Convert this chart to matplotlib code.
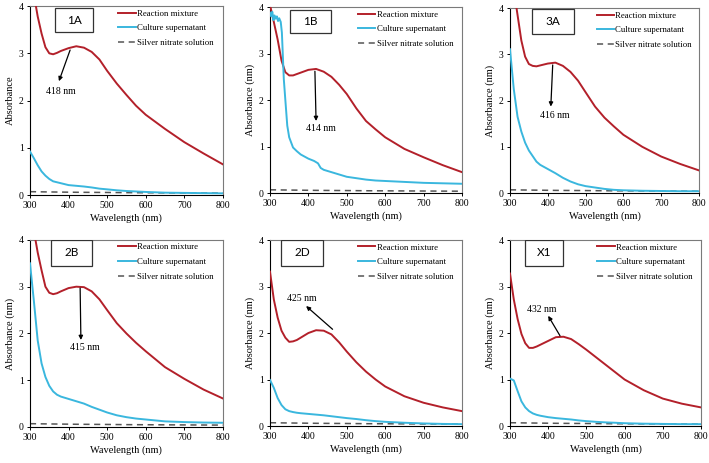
import matplotlib
matplotlib.use("Agg")
import matplotlib.pyplot as plt
from matplotlib.patches import Rectangle

# ---------------- data ----------------
wavelength = [300, 310, 320, 330, 340, 350, 360, 370, 380, 400, 420, 440, 460,
              480, 500, 525, 550, 575, 600, 650, 700, 750, 800]

silver = [0.07, 0.07, 0.068, 0.067, 0.066, 0.065, 0.064, 0.063, 0.062, 0.06, 0.058,
          0.057, 0.056, 0.055, 0.054, 0.052, 0.05, 0.049, 0.048, 0.046, 0.044, 0.042, 0.04]

red_1A = [4.9, 4.25, 3.78, 3.42, 3.13, 3.0, 2.98, 3.01, 3.05, 3.11, 3.15, 3.12, 3.03,
          2.87, 2.63, 2.36, 2.12, 1.89, 1.70, 1.40, 1.12, 0.88, 0.65]
blue_1A = [0.92, 0.78, 0.63, 0.50, 0.41, 0.34, 0.29, 0.27, 0.25, 0.21, 0.195, 0.18, 0.16,
           0.135, 0.12, 0.10, 0.085, 0.075, 0.065, 0.05, 0.045, 0.04, 0.035]

red_1B = [4.05, 3.68, 3.3, 2.85, 2.6, 2.53, 2.53, 2.56, 2.59, 2.65, 2.67, 2.61, 2.5,
          2.33, 2.13, 1.82, 1.55, 1.37, 1.2, 0.95, 0.77, 0.6, 0.45]
wl_blue_1B = [300, 303, 306, 309, 312, 315, 318, 321, 324, 328, 331, 336, 340, 345, 350,
              360, 370, 380, 400, 415, 425, 432, 440, 460, 480, 500, 525, 550, 575,
              600, 650, 700, 750, 800]
blue_1B = [3.88, 3.8, 3.9, 3.72, 3.82, 3.75, 3.8, 3.7, 3.76, 3.68, 3.45, 2.45, 2.0, 1.45, 1.2,
           0.98, 0.9, 0.83, 0.74, 0.69, 0.64, 0.54, 0.5, 0.45, 0.4, 0.35, 0.32, 0.29, 0.27,
           0.26, 0.24, 0.22, 0.21, 0.2]

red_3A = [5.0, 4.4, 3.85, 3.3, 2.95, 2.79, 2.75, 2.74, 2.76, 2.8, 2.82, 2.75, 2.62,
          2.43, 2.18, 1.87, 1.63, 1.44, 1.26, 1.0, 0.79, 0.63, 0.49]
blue_3A = [3.11, 2.25, 1.65, 1.33, 1.09, 0.92, 0.8, 0.68, 0.61, 0.52, 0.43, 0.33, 0.25,
           0.19, 0.15, 0.12, 0.09, 0.07, 0.06, 0.05, 0.045, 0.04, 0.04]

red_2B = [5.0, 4.2, 3.73, 3.35, 3.0, 2.87, 2.84, 2.86, 2.9, 2.97, 3.0, 2.99, 2.9,
          2.73, 2.5, 2.22, 2.0, 1.8, 1.62, 1.28, 1.03, 0.8, 0.61]
blue_2B = [3.5, 2.7, 1.85, 1.36, 1.07, 0.88, 0.76, 0.69, 0.65, 0.6, 0.55, 0.5, 0.43,
           0.37, 0.31, 0.25, 0.21, 0.18, 0.16, 0.12, 0.105, 0.095, 0.09]

red_2D = [3.32, 2.72, 2.33, 2.05, 1.9, 1.81, 1.82, 1.85, 1.9, 2.0, 2.06, 2.05, 1.97,
          1.8, 1.6, 1.37, 1.17, 1.0, 0.85, 0.64, 0.5, 0.4, 0.32]
blue_2D = [0.99, 0.82, 0.6, 0.45, 0.36, 0.32, 0.3, 0.285, 0.275, 0.26, 0.245, 0.23, 0.21,
           0.19, 0.17, 0.15, 0.125, 0.105, 0.09, 0.07, 0.055, 0.045, 0.04]

red_X1 = [3.28, 2.72, 2.3, 1.98, 1.78, 1.68, 1.68, 1.71, 1.75, 1.83, 1.91, 1.92, 1.87,
          1.76, 1.64, 1.48, 1.32, 1.16, 1.0, 0.77, 0.59, 0.48, 0.4]
blue_X1 = [1.02, 0.98, 0.75, 0.53, 0.4, 0.32, 0.27, 0.24, 0.22, 0.19, 0.17, 0.155, 0.14,
           0.12, 0.105, 0.09, 0.078, 0.07, 0.06, 0.05, 0.045, 0.04, 0.04]

panel_names = ["1A", "1B", "3A", "2B", "2D", "X1"]
ylabels = ["Absorbance", "Absorbance (nm)", "Absorbance (nm)",
           "Absorbance (nm)", "Absorbance (nm)", "Absorbance (nm)"]
peak_labels = ["418 nm", "414 nm", "416 nm", "415 nm", "425 nm", "432 nm"]
series_labels = ["Reaction mixture", "Culture supernatant", "Silver nitrate solution"]
x_ticks = [300, 400, 500, 600, 700, 800]
y_ticks = [0, 1, 2, 3, 4]

# ---------------- layout / styling ----------------
RED = "#B3202A"
BLUE = "#3AB7DE"
GREY = "#555555"

plt.rcParams["font.family"] = ["Liberation Serif", "DejaVu Serif"]

fig = plt.figure(figsize=(7.09, 4.63), dpi=100)

axes_rects = [
    (0.0423, 0.5788, 0.2720, 0.4080),
    (0.3808, 0.5830, 0.2708, 0.4017),
    (0.7193, 0.5830, 0.2666, 0.3996),
    (0.0423, 0.0778, 0.2720, 0.4040),
    (0.3808, 0.0799, 0.2708, 0.4017),
    (0.7193, 0.0799, 0.2694, 0.4017),
]
box_rects = [
    (0.13, 0.862, 0.197, 0.127),
    (0.104, 0.860, 0.212, 0.124),
    (0.115, 0.859, 0.223, 0.136),
    (0.107, 0.861, 0.214, 0.139),
    (0.057, 0.862, 0.219, 0.138),
    (0.0785, 0.862, 0.1985, 0.138),
]
# (arrow tail, arrow head, text position) in data coordinates
arrows = [
    ((404, 3.07), (375, 2.41), (379, 2.20)),
    ((417, 2.62), (420, 1.55), (433, 1.38)),
    ((413, 2.77), (408, 1.87), (419, 1.67)),
    ((430, 2.97), (432, 1.86), (443, 1.70)),
    ((463, 2.08), (394, 2.58), (383, 2.75)),
    ((431, 1.94), (400, 2.37), (383, 2.51)),
]

reds = [red_1A, red_1B, red_3A, red_2B, red_2D, red_X1]
blues = [(wavelength, blue_1A), (wl_blue_1B, blue_1B), (wavelength, blue_3A),
         (wavelength, blue_2B), (wavelength, blue_2D), (wavelength, blue_X1)]

for i in range(6):
    ax = fig.add_axes(axes_rects[i])
    ax.plot(wavelength, reds[i], color=RED, lw=1.4, label=series_labels[0], zorder=3)
    bx, by = blues[i]
    ax.plot(bx, by, color=BLUE, lw=1.4, label=series_labels[1], zorder=3)
    ax.plot(wavelength, silver, color=GREY, lw=1.1, ls=(0, (4, 3)),
            label=series_labels[2], zorder=2)

    ax.set_xlim(300, 800)
    ax.set_ylim(0, 4)
    ax.set_xticks(x_ticks)
    ax.set_yticks(y_ticks)
    ax.tick_params(labelsize=7, length=2.5, width=0.7, direction="out", pad=2)
    ax.set_xlabel("Wavelength (nm)", fontsize=7.5, labelpad=2)
    ax.set_ylabel(ylabels[i], fontsize=7.5, labelpad=3)
    for s in ("left", "bottom"):
        ax.spines[s].set_color("black")
        ax.spines[s].set_linewidth(0.8)
    for s in ("top", "right"):
        ax.spines[s].set_color("#7a7a7a")
        ax.spines[s].set_linewidth(0.8)

    leg = ax.legend(loc="upper left", bbox_to_anchor=(0.43, 1.01), frameon=False,
                    fontsize=6.3, handlelength=2.0, handletextpad=0.15,
                    labelspacing=0.75, borderaxespad=0.2)

    bxr, byr, bw, bh = box_rects[i]
    ax.add_patch(Rectangle((bxr, byr), bw, bh, transform=ax.transAxes,
                           facecolor="white", edgecolor="#333333", lw=0.9, zorder=5))
    ax.text(bxr + bw / 2, byr + bh / 2, panel_names[i], transform=ax.transAxes,
            ha="center", va="center", fontsize=8.5, family=["Lato", "DejaVu Sans"],
            zorder=6)

    tail, head, tpos = arrows[i]
    ax.annotate("", xy=head, xytext=tail,
                arrowprops=dict(arrowstyle="-|>", color="black", lw=0.9,
                                mutation_scale=6, shrinkA=0, shrinkB=0))
    ax.text(tpos[0], tpos[1], peak_labels[i], ha="center", va="center", fontsize=7)

fig.savefig("out.png", dpi=100)
